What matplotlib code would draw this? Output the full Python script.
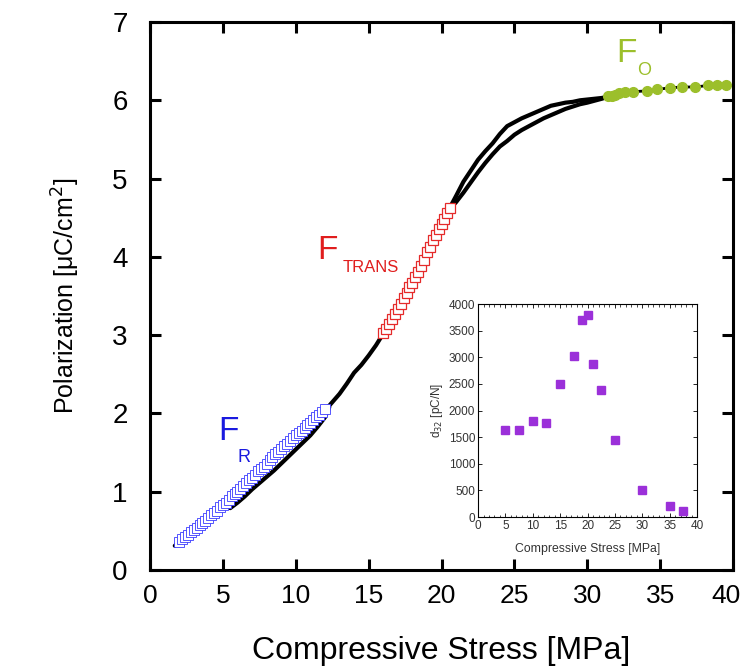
import matplotlib.pyplot as plt
import matplotlib as mpl
import matplotlib.transforms as mtransforms

mpl.rcParams['font.family'] = 'Liberation Sans'

# ---- main curve data (stress MPa, polarization uC/cm2) ----
start_x = [1.7, 2.0]
start_y = [0.31, 0.35]

# F_R region (open blue squares)
fr_x = [2.0, 2.2, 2.4, 2.6, 2.8, 3.0, 3.2, 3.4, 3.6, 3.8, 4.0, 4.2, 4.4, 4.6, 4.8,
        5.0, 5.2, 5.4, 5.6, 5.8, 6.0, 6.2, 6.4, 6.6, 6.8, 7.0, 7.2, 7.4, 7.6, 7.8,
        8.0, 8.2, 8.4, 8.6, 8.8, 9.0, 9.2, 9.4, 9.6, 9.8, 10.0, 10.2, 10.4, 10.6,
        10.8, 11.0, 11.2, 11.4, 11.6, 11.8, 12.0]
fr_y = [0.36, 0.39, 0.42, 0.45, 0.48, 0.51, 0.54, 0.57, 0.60, 0.63, 0.66, 0.70,
        0.73, 0.76, 0.80, 0.83, 0.86, 0.90, 0.94, 0.97, 1.00, 1.04, 1.07, 1.11,
        1.15, 1.18, 1.22, 1.26, 1.29, 1.32, 1.36, 1.40, 1.44, 1.48, 1.51, 1.55,
        1.58, 1.61, 1.65, 1.68, 1.72, 1.75, 1.78, 1.81, 1.85, 1.88, 1.91, 1.95,
        1.98, 2.02, 2.06]

# black return branch under F_R
low_x = [5.5, 6.0, 6.5, 7.0, 7.5, 8.0, 8.5, 9.0, 9.5, 10.0, 10.5, 11.0, 11.5, 12.0, 12.3]
low_y = [0.79, 0.86, 0.94, 1.03, 1.11, 1.19, 1.27, 1.36, 1.45, 1.54, 1.63, 1.72, 1.83, 1.95, 2.08]

# black segment between F_R and F_TRANS
mid_x = [12.0, 12.3, 13.0, 13.5, 14.0, 14.5, 15.0, 15.5, 16.0]
mid_y = [2.06, 2.10, 2.25, 2.38, 2.52, 2.62, 2.74, 2.87, 3.02]

# F_TRANS region (open red squares)
ft_x = [16.0, 16.2, 16.4, 16.6, 16.8, 17.0, 17.2, 17.4, 17.6, 17.8, 18.0, 18.2,
        18.4, 18.6, 18.8, 19.0, 19.2, 19.4, 19.6, 19.8, 20.0, 20.2, 20.4, 20.6]
ft_y = [3.03, 3.08, 3.14, 3.20, 3.27, 3.33, 3.40, 3.47, 3.54, 3.61, 3.67, 3.74,
        3.81, 3.88, 3.96, 4.06, 4.13, 4.21, 4.28, 4.36, 4.42, 4.49, 4.56, 4.62]

# two black branches after F_TRANS
up_x = [20.6, 21.0, 21.5, 22.0, 22.5, 23.0, 23.5, 24.0, 24.5, 25.0, 25.5, 26.0,
        26.5, 27.0, 27.5, 28.0, 28.5, 29.0, 29.5, 30.0, 31.0, 31.5]
up_y = [4.64, 4.78, 4.96, 5.10, 5.24, 5.35, 5.45, 5.57, 5.67, 5.72, 5.77, 5.81,
        5.85, 5.89, 5.93, 5.95, 5.97, 5.98, 6.00, 6.01, 6.03, 6.05]
dn_x = [20.6, 21.0, 21.5, 22.0, 22.5, 23.0, 23.5, 24.0, 24.5, 25.0, 25.5, 26.0,
        26.5, 27.0, 27.5, 28.0, 28.5, 29.0, 29.5, 30.0, 31.0, 31.5]
dn_y = [4.62, 4.70, 4.82, 4.95, 5.08, 5.20, 5.31, 5.41, 5.48, 5.56, 5.62, 5.67,
        5.72, 5.77, 5.81, 5.85, 5.89, 5.92, 5.95, 5.97, 6.02, 6.05]

# F_O region (filled green circles)
fo_x = [31.4, 31.7, 31.9, 32.2, 32.6, 33.1, 34.1, 34.8, 35.7, 36.5, 37.4, 38.3, 38.9, 39.5]
fo_y = [6.05, 6.06, 6.07, 6.09, 6.10, 6.11, 6.12, 6.14, 6.16, 6.17, 6.17, 6.19, 6.19, 6.19]

x_ticks = [0, 5, 10, 15, 20, 25, 30, 35, 40]
y_ticks = [0, 1, 2, 3, 4, 5, 6, 7]

# ---- inset data ----
d_stress = [5, 7.5, 10, 12.5, 15, 17.5, 19, 20, 21, 22.5, 25, 30, 35, 37.5]
d32 = [1630, 1640, 1800, 1770, 2490, 3030, 3700, 3790, 2880, 2390, 1440, 510, 200, 110]

fig = plt.figure(figsize=(7.4, 6.71), dpi=100)
ax = fig.add_axes([0.2027, 0.1505, 0.788, 0.8167])

ax.plot(start_x, start_y, color='black', lw=3, solid_capstyle='round')
ax.plot(low_x, low_y, color='black', lw=3, solid_capstyle='round')
ax.plot(mid_x, mid_y, color='black', lw=3, solid_capstyle='round')
ax.plot(up_x, up_y, color='black', lw=3)
ax.plot(dn_x, dn_y, color='black', lw=3)
ax.plot(fo_x, fo_y, color='black', lw=2)
ax.plot(fr_x, fr_y, ls='none', marker='s', ms=6.5, mfc='white', mec='#3a3aff', mew=0.6)
ax.plot(ft_x, ft_y, ls='none', marker='s', ms=7.5, mfc='white', mec='#e52a2a', mew=0.9)
ax.plot(fo_x, fo_y, ls='none', marker='o', ms=7, color='#9cbf2b')

ax.set_xlim(0, 40)
ax.set_ylim(0, 7)
ax.set_xticks(x_ticks)
ax.set_yticks(y_ticks)
# last x label drawn by hand, nudged left so it stays inside the figure
ax.set_xticklabels([str(v) for v in x_ticks[:-1]] + [''])
for s in ax.spines.values():
    s.set_linewidth(2.2)
ax.tick_params(direction='in', length=8, width=2.2, top=True, right=True)
ax.tick_params(axis='y', labelsize=20, pad=16)
ax.tick_params(axis='x', labelsize=19, pad=10)
last_tr = mtransforms.offset_copy(ax.get_xaxis_transform(), fig=fig, x=-7, y=-14, units='dots')
ax.text(x_ticks[-1], 0, str(x_ticks[-1]), transform=last_tr, ha='center', va='top',
        fontsize=19)

ax.set_ylabel('Polarization [\u03bcC/cm$^2$]', fontsize=18, labelpad=22)
ax.set_xlabel('Compressive Stress [MPa]', fontsize=23, labelpad=20)

# region labels
ax.text(4.66, 1.66, 'F', color='#1a1adf', fontsize=24)
ax.text(5.97, 1.38, 'R', color='#1a1adf', fontsize=13)
ax.text(11.5, 3.97, 'F', color='#e01e1e', fontsize=24)
ax.text(13.2, 3.81, 'TRANS', color='#e01e1e', fontsize=12)
ax.text(32.0, 6.49, 'F', color='#9cbf2b', fontsize=24)
ax.text(33.4, 6.32, 'O', color='#9cbf2b', fontsize=13)

# inset
ins = fig.add_axes([0.646, 0.2295, 0.296, 0.3174])
ins.plot(d_stress, d32, ls='none', marker='s', ms=5.5, color='#9b30d9')
ins.set_xlim(0, 40)
ins.set_ylim(0, 4000)
ins.set_xticks(range(0, 41, 5))
ins.set_yticks(range(0, 4001, 500))
ins.set_xticks(range(0, 41, 1), minor=True)
for s in ins.spines.values():
    s.set_linewidth(0.8)
ins.tick_params(direction='in', length=3, width=0.6, top=True, right=True,
                labelsize=8.5, labelcolor='#333333', pad=2)
ins.tick_params(which='minor', direction='in', length=1.8, width=0.5, top=True)
ins.set_xlabel('Compressive Stress [MPa]', fontsize=8.8, color='#333333', labelpad=8)
ins.set_ylabel('d$_{32}$ [pC/N]', fontsize=8.5, color='#333333', labelpad=3)

fig.savefig('out.png', dpi=100)
